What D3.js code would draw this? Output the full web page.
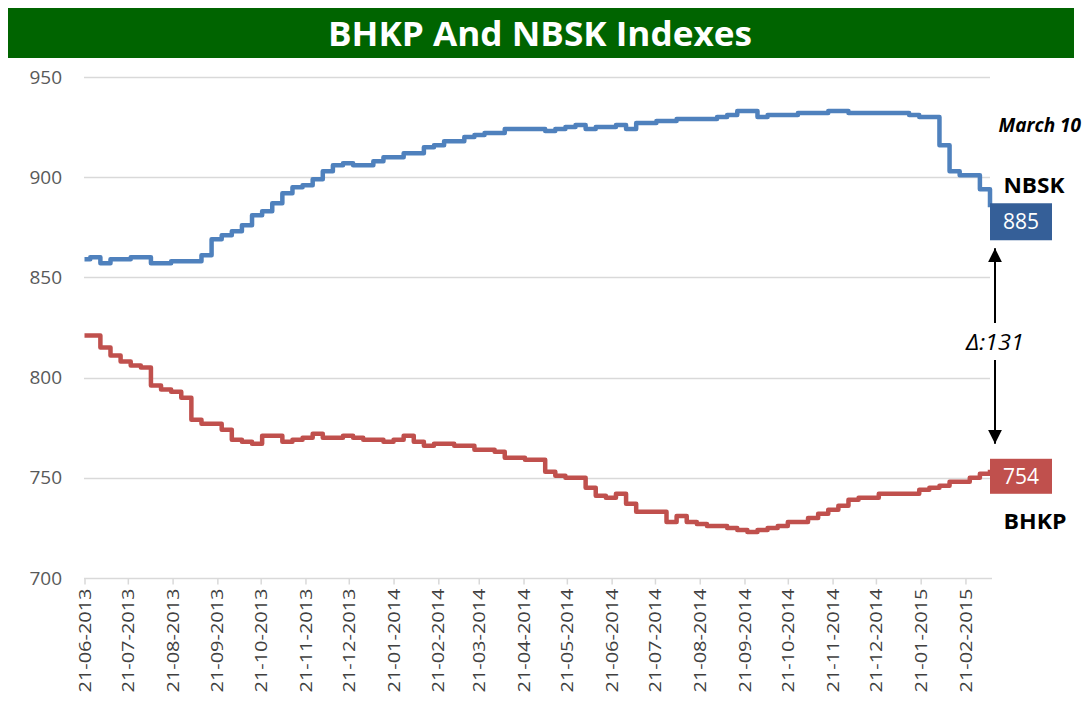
<!DOCTYPE html>
<html>
<head>
<meta charset="utf-8">
<script src="https://cdn.jsdelivr.net/npm/d3@7"></script>
<style>
  html, body { margin: 0; padding: 0; background: #fff; }
  svg { display: block; }
</style>
</head>
<body>
<script>
// 週次データ: 最初の点 2013-06-21, その後 2013-06-25 から毎週火曜日 (90点)
const firstDate = "2013-06-21";
const weeklyStart = "2013-06-25";

const nbsk = [
  859,
  860, 857, 859, 859, 860, 860, 857, 857, 858, 858,
  858, 861, 869, 871, 873, 876, 881, 883, 887, 892,
  895, 896, 899, 903, 906, 907, 906, 906, 908, 910,
  910, 912, 912, 915, 916, 918, 918, 920, 921, 922,
  922, 924, 924, 924, 924, 923, 924, 925, 926, 924,
  925, 925, 926, 924, 927, 927, 928, 928, 929, 929,
  929, 929, 930, 931, 933, 933, 930, 931, 931, 931,
  932, 932, 932, 933, 933, 932, 932, 932, 932, 932,
  932, 931, 930, 930, 916, 903, 901, 901, 894, 885
];

const bhkp = [
  821,
  821, 815, 811, 808, 806, 805, 796, 794, 793, 790,
  779, 777, 777, 774, 769, 768, 767, 771, 771, 768,
  769, 770, 772, 770, 770, 771, 770, 769, 769, 768,
  769, 771, 768, 766, 767, 767, 766, 766, 764, 764,
  763, 760, 760, 759, 759, 753, 751, 750, 750, 745,
  741, 740, 742, 737, 733, 733, 733, 728, 731, 728,
  727, 726, 726, 725, 724, 723, 724, 725, 726, 728,
  728, 730, 732, 734, 736, 739, 740, 740, 742, 742,
  742, 742, 744, 745, 746, 748, 748, 750, 752, 754
];

const yTicks = [700, 750, 800, 850, 900, 950];
const xTickLabels = [
  "21-06-2013", "21-07-2013", "21-08-2013", "21-09-2013", "21-10-2013",
  "21-11-2013", "21-12-2013", "21-01-2014", "21-02-2014", "21-03-2014",
  "21-04-2014", "21-05-2014", "21-06-2014", "21-07-2014", "21-08-2014",
  "21-09-2014", "21-10-2014", "21-11-2014", "21-12-2014", "21-01-2015",
  "21-02-2015"
];

const title = "BHKP And NBSK Indexes";
const dateNote = "March 10";
const deltaLabel = "\u0394:131";

const width = 1087;
const height = 701;

const parseIso = d3.timeParse("%Y-%m-%d");
const parseTick = d3.timeParse("%d-%m-%Y");

// 日付列を作る
const dates = [parseIso(firstDate)];
for (let i = 0; i < nbsk.length - 1; i++) {
  dates.push(d3.timeDay.offset(parseIso(weeklyStart), i * 7));
}
const endDate = dates[dates.length - 1];

const svg = d3.select("body").append("svg")
  .attr("width", width)
  .attr("height", height);

svg.append("rect").attr("width", width).attr("height", height).attr("fill", "#fff");

// タイトル帯
svg.append("rect")
  .attr("x", 8).attr("y", 8)
  .attr("width", 1066).attr("height", 50)
  .attr("fill", "#006400");
svg.append("text")
  .attr("x", 540).attr("y", 46)
  .attr("text-anchor", "middle")
  .attr("font-family", "'Open Sans', sans-serif")
  .attr("font-weight", "bold")
  .attr("font-size", 34)
  .attr("textLength", 424)
  .attr("lengthAdjust", "spacingAndGlyphs")
  .attr("fill", "#fff")
  .text(title);

const x = d3.scaleTime()
  .domain([dates[0], endDate])
  .range([84.5, 990]);

const y = d3.scaleLinear()
  .domain([700, 950])
  .range([578, 77]);

// グリッド線
svg.append("g")
  .selectAll("line")
  .data(yTicks.filter(d => d > 700))
  .join("line")
  .attr("x1", 84).attr("x2", 990)
  .attr("y1", d => Math.round(y(d)) + 0.5)
  .attr("y2", d => Math.round(y(d)) + 0.5)
  .attr("stroke", "#d9d9d9")
  .attr("stroke-width", 1.5);

// Y軸
const yAxis = svg.append("g")
  .attr("transform", "translate(62,0)")
  .call(d3.axisLeft(y).tickValues(yTicks).tickSize(0).tickPadding(0));
yAxis.select(".domain").remove();
yAxis.selectAll("text")
  .attr("font-family", "'Open Sans', sans-serif")
  .attr("font-size", 19)
  .attr("fill", "#595959");

// X軸
const xAxis = svg.append("g")
  .attr("transform", `translate(0,${Math.round(y(700)) + 0.5})`)
  .call(d3.axisBottom(x)
    .tickValues(xTickLabels.map(parseTick))
    .tickFormat(d3.timeFormat("%d-%m-%Y"))
    .tickSize(6)
    .tickSizeOuter(0));
xAxis.select(".domain")
  .attr("stroke", "#d9d9d9")
  .attr("stroke-width", 1.5)
  .attr("d", "M84,0H992");
xAxis.selectAll(".tick line").attr("stroke", "#d9d9d9").attr("stroke-width", 1.5);
xAxis.selectAll("text")
  .attr("font-family", "'Open Sans', sans-serif")
  .attr("font-size", 16)
  .attr("fill", "#404040")
  .attr("text-anchor", "end")
  .attr("transform", "rotate(-90)")
  .attr("x", -10)
  .attr("y", 0)
  .attr("dy", "0.35em")
  .attr("textLength", 104)
  .attr("lengthAdjust", "spacingAndGlyphs");

// 線
const line = d3.line()
  .x((d, i) => x(dates[i]))
  .y(d => y(d))
  .curve(d3.curveStepAfter);

svg.append("path")
  .datum(bhkp)
  .attr("d", line)
  .attr("fill", "none")
  .attr("stroke", "#c0504d")
  .attr("stroke-width", 4.5)
  .attr("stroke-linejoin", "round");

svg.append("path")
  .datum(nbsk)
  .attr("d", line)
  .attr("fill", "none")
  .attr("stroke", "#4f81bd")
  .attr("stroke-width", 4.5)
  .attr("stroke-linejoin", "round");

// 最終値ラベル
const lastN = nbsk[nbsk.length - 1];
const lastB = bhkp[bhkp.length - 1];
const xe = x(endDate);

svg.append("rect")
  .attr("x", xe).attr("y", y(lastN) - 4)
  .attr("width", 62).attr("height", 37)
  .attr("fill", "#355f98");
svg.append("text")
  .attr("x", xe + 31).attr("y", y(lastN) + 22)
  .attr("text-anchor", "middle")
  .attr("font-family", "'Open Sans', sans-serif")
  .attr("font-size", 21)
  .attr("fill", "#fff")
  .text(lastN);

svg.append("rect")
  .attr("x", xe).attr("y", y(lastB) - 11)
  .attr("width", 62).attr("height", 35)
  .attr("fill", "#c0504d");
svg.append("text")
  .attr("x", xe + 31).attr("y", y(lastB) + 14)
  .attr("text-anchor", "middle")
  .attr("font-family", "'Open Sans', sans-serif")
  .attr("font-size", 21)
  .attr("fill", "#fff")
  .text(lastB);

// 系列名と日付
svg.append("text")
  .attr("x", 1081).attr("y", 132)
  .attr("text-anchor", "end")
  .attr("font-family", "'Open Sans', sans-serif")
  .attr("font-weight", "bold")
  .attr("font-style", "italic")
  .attr("font-size", 19)
  .attr("fill", "#000")
  .text(dateNote);

svg.append("text")
  .attr("x", 1034).attr("y", 193)
  .attr("text-anchor", "middle")
  .attr("font-family", "'Open Sans', sans-serif")
  .attr("font-weight", "bold")
  .attr("font-size", 21)
  .attr("textLength", 61)
  .attr("lengthAdjust", "spacingAndGlyphs")
  .attr("fill", "#000")
  .text("NBSK");

svg.append("text")
  .attr("x", 1035).attr("y", 529)
  .attr("text-anchor", "middle")
  .attr("font-family", "'Open Sans', sans-serif")
  .attr("font-weight", "bold")
  .attr("font-size", 21)
  .attr("textLength", 63)
  .attr("lengthAdjust", "spacingAndGlyphs")
  .attr("fill", "#000")
  .text("BHKP");

// 差分の矢印
const ax = 995;
const defs = svg.append("defs");
defs.append("marker")
  .attr("id", "arrow")
  .attr("viewBox", "0 0 10 10")
  .attr("refX", 10).attr("refY", 5)
  .attr("markerWidth", 14).attr("markerHeight", 14)
  .attr("markerUnits", "userSpaceOnUse")
  .attr("orient", "auto")
  .append("path")
  .attr("d", "M0,0L10,5L0,10Z")
  .attr("fill", "#000");

svg.append("line")
  .attr("x1", ax).attr("x2", ax)
  .attr("y1", 323).attr("y2", y(lastN) + 41)
  .attr("stroke", "#000").attr("stroke-width", 2)
  .attr("marker-end", "url(#arrow)");
svg.append("line")
  .attr("x1", ax).attr("x2", ax)
  .attr("y1", 360).attr("y2", y(lastB) - 26)
  .attr("stroke", "#000").attr("stroke-width", 2)
  .attr("marker-end", "url(#arrow)");

svg.append("text")
  .attr("x", ax).attr("y", 350)
  .attr("text-anchor", "middle")
  .attr("font-family", "'Open Sans', sans-serif")
  .attr("font-style", "italic")
  .attr("font-size", 21)
  .attr("textLength", 58)
  .attr("lengthAdjust", "spacingAndGlyphs")
  .attr("fill", "#000")
  .text(deltaLabel);
</script>
</body>
</html>
